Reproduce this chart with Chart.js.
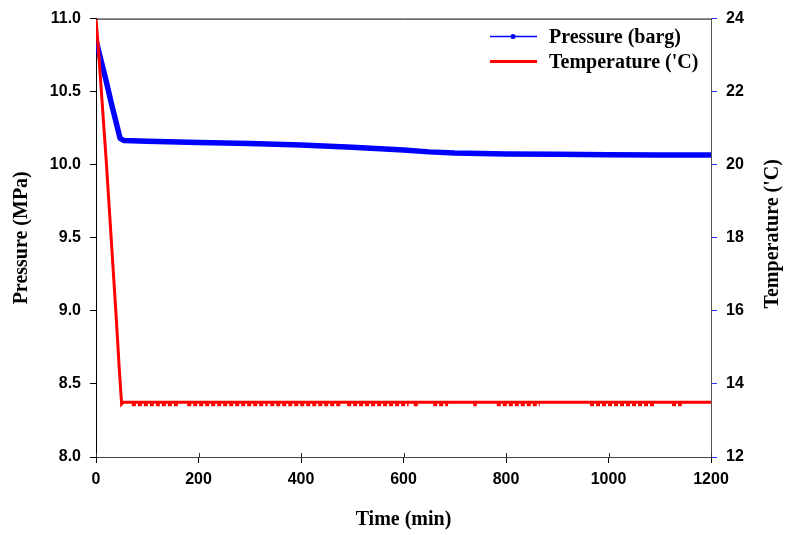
<!DOCTYPE html>
<html>
<head>
<meta charset="utf-8">
<script src="https://cdn.jsdelivr.net/npm/chart.js@4.4.1/dist/chart.umd.min.js"></script>
<style>
  html, body { margin: 0; padding: 0; background: #fff; }
  #wrap { width: 786px; height: 535px; position: relative; }
</style>
</head>
<body>
<div id="wrap"><canvas id="pressureTempChart"></canvas></div>
<script>
// Pressure readings (MPa) against time (min)
const pressureTime = [0, 10, 20, 30, 40, 47, 55, 100, 200, 300, 400, 500, 600, 650, 700, 800, 900, 1000, 1100, 1200];
const pressureValues = [10.85, 10.71, 10.57, 10.42, 10.28, 10.18, 10.165, 10.16, 10.152, 10.145, 10.135, 10.12, 10.10, 10.088, 10.08, 10.074, 10.072, 10.068, 10.066, 10.066];

// Temperature readings ('C)
const tempTime = [0, 5, 10, 20, 30, 40, 45, 50, 53, 100, 600, 1200];
const tempValues = [24.0, 23.1, 22.1, 20.1, 17.9, 15.7, 14.5, 13.45, 13.5, 13.5, 13.5, 13.5];

// stretches where the temperature reading flickered one step down
const dipStart = [70, 178, 340, 490, 620, 658, 736, 782, 964, 1124];
const dipEnd = [160, 335, 480, 610, 632, 687, 743, 866, 1091, 1143];
const dipValue = 13.43;

const xTicks = [0, 200, 400, 600, 800, 1000, 1200];

const seriesLabels = ["Pressure (barg)", "Temperature ('C)"];
const blue = '#0000ff';
const red = '#ff0000';

const tickFont = { family: '"Liberation Sans", Arial, sans-serif', size: 16, weight: 'bold' };
const titleFont = { family: '"Liberation Serif", "Times New Roman", serif', size: 20, weight: 'bold' };

// build point lists
const pressurePoints = pressureTime.map((t, i) => ({ x: t, y: pressureValues[i] }));
const tempPoints = tempTime.map((t, i) => ({ x: t, y: tempValues[i] }));
const dipPoints = [];
dipStart.forEach((s, i) => {
  dipPoints.push({ x: s, y: dipValue });
  dipPoints.push({ x: dipEnd[i], y: dipValue });
  dipPoints.push({ x: dipEnd[i], y: null });
});

// legend, top frame, right-hand title and the inner half of the x ticks
const extrasPlugin = {
  id: 'extras',
  afterDraw(chart) {
    const ctx = chart.ctx;
    const area = chart.chartArea;
    const xScale = chart.scales.x;
    ctx.save();

    // frame line along the top
    ctx.strokeStyle = '#000';
    ctx.lineWidth = 1;
    ctx.beginPath();
    ctx.moveTo(area.left, area.top + 0.5);
    ctx.lineTo(area.right, area.top + 0.5);
    ctx.stroke();

    // inner tick stubs on the time axis
    ctx.strokeStyle = '#333';
    xTicks.forEach(v => {
      const px = Math.round(xScale.getPixelForValue(v)) + 0.5;
      ctx.beginPath();
      ctx.moveTo(px, area.bottom - 4);
      ctx.lineTo(px, area.bottom);
      ctx.stroke();
    });

    // legend
    const lx = area.right - 221;
    const rows = [area.top + 18, area.top + 43];
    ctx.lineWidth = 1.5;
    ctx.strokeStyle = blue;
    ctx.beginPath();
    ctx.moveTo(lx, rows[0]);
    ctx.lineTo(lx + 47, rows[0]);
    ctx.stroke();
    ctx.fillStyle = blue;
    ctx.beginPath();
    ctx.arc(lx + 23, rows[0], 2.5, 0, Math.PI * 2);
    ctx.fill();

    ctx.lineWidth = 3;
    ctx.strokeStyle = red;
    ctx.beginPath();
    ctx.moveTo(lx, rows[1]);
    ctx.lineTo(lx + 47, rows[1]);
    ctx.stroke();

    ctx.fillStyle = '#000';
    ctx.font = 'bold 20px "Liberation Serif", "Times New Roman", serif';
    ctx.textBaseline = 'middle';
    ctx.textAlign = 'left';
    ctx.fillText(seriesLabels[0], lx + 59, rows[0] + 1);
    ctx.fillText(seriesLabels[1], lx + 59, rows[1] + 1);

    // right axis title, reading bottom to top
    ctx.translate(773, (area.top + area.bottom) / 2 - 4);
    ctx.rotate(-Math.PI / 2);
    ctx.textAlign = 'center';
    ctx.fillText("Temperature ('C)", 0, 0);
    ctx.restore();
  }
};

const ctx = document.getElementById('pressureTempChart').getContext('2d');

const chart = new Chart(ctx, {
  type: 'line',
  data: {
    datasets: [
      {
        label: seriesLabels[1],
        data: tempPoints,
        yAxisID: 'y2',
        borderColor: red,
        borderWidth: 3,
        pointRadius: 0,
        tension: 0,
        order: 0
      },
      {
        label: 'temperature flicker',
        data: dipPoints,
        yAxisID: 'y2',
        borderColor: red,
        borderWidth: 3,
        borderDash: [4, 2],
        pointRadius: 0,
        spanGaps: false,
        order: 1
      },
      {
        label: seriesLabels[0],
        data: pressurePoints,
        yAxisID: 'y',
        borderColor: blue,
        borderWidth: 5.5,
        pointRadius: 0,
        tension: 0,
        borderJoinStyle: 'round',
        borderCapStyle: 'round',
        order: 2
      }
    ]
  },
  options: {
    responsive: true,
    maintainAspectRatio: false,
    animation: false,
    layout: { padding: { top: 17, left: 0, right: 0, bottom: 0 } },
    plugins: {
      legend: { display: false },
      tooltip: { enabled: false }
    },
    scales: {
      x: {
        type: 'linear',
        min: 0,
        max: 1200,
        afterFit: s => { s.height = 78; },
        afterBuildTicks: s => { s.ticks = xTicks.map(v => ({ value: v })); },
        ticks: {
          font: tickFont,
          color: '#000',
          padding: 7,
          maxRotation: 0,
          callback: v => String(v)
        },
        grid: { drawOnChartArea: false, tickLength: 6, color: '#000' },
        border: { color: '#444', width: 1 },
        title: {
          display: true,
          text: 'Time (min)',
          font: titleFont,
          color: '#000',
          padding: { top: 0, bottom: 3 }
        }
      },
      y: {
        position: 'left',
        min: 8,
        max: 11,
        afterFit: s => { s.width = 96; },
        ticks: {
          stepSize: 0.5,
          font: tickFont,
          color: '#000',
          padding: 9,
          callback: v => v.toFixed(1)
        },
        grid: { drawOnChartArea: false, tickLength: 6, color: '#000' },
        border: { color: '#000', width: 1 },
        title: {
          display: true,
          text: 'Pressure (MPa)',
          font: titleFont,
          color: '#000',
          padding: { top: 10, bottom: 0 }
        }
      },
      y2: {
        position: 'right',
        min: 12,
        max: 24,
        afterFit: s => { s.width = 75; },
        ticks: {
          stepSize: 2,
          font: tickFont,
          color: '#000',
          padding: 9
        },
        grid: { drawOnChartArea: false, tickLength: 6, color: '#3030ff' },
        border: { color: '#555', width: 1 }
      }
    }
  },
  plugins: [extrasPlugin]
});
</script>
</body>
</html>
